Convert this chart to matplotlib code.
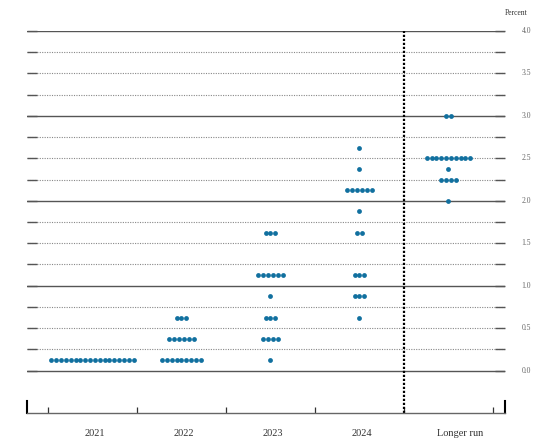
import matplotlib.pyplot as plt
import numpy as np

plt.rcParams["font.family"] = ["Liberation Serif", "DejaVu Serif"]

# midpoint of target range (percent) and number of participants at each
categories = ["2021", "2022", "2023", "2024", "Longer run"]
rates_2021 = [0.125]
counts_2021 = [18]
rates_2022 = [0.125, 0.375, 0.625]
counts_2022 = [9, 6, 3]
rates_2023 = [0.125, 0.375, 0.625, 0.875, 1.125, 1.625]
counts_2023 = [1, 4, 3, 1, 6, 3]
rates_2024 = [0.625, 0.875, 1.125, 1.625, 1.875, 2.125, 2.375, 2.625]
counts_2024 = [1, 3, 3, 2, 1, 6, 1, 1]
rates_lr = [2.0, 2.25, 2.375, 2.5, 3.0]
counts_lr = [1, 4, 1, 10, 2]

all_rates = [rates_2021, rates_2022, rates_2023, rates_2024, rates_lr]
all_counts = [counts_2021, counts_2022, counts_2023, counts_2024, counts_lr]

ytick_vals = [0.0, 0.5, 1.0, 1.5, 2.0, 2.5, 3.0, 3.5, 4.0]

fig = plt.figure(figsize=(5.59, 4.48), dpi=100)
ax = fig.add_axes([0.0483, 0.0781, 0.8551, 0.8527])

xmin, xmax = -0.736, 4.635
ax.set_xlim(xmin, xmax)
ax.set_ylim(-0.5, 4.0)

# grid lines
for k in range(17):
    y = k * 0.25
    if k % 4 == 0:
        ax.axhline(y, color="#555555", lw=1.0, zorder=1)
    else:
        ax.axhline(y, color="#888888", lw=0.8, ls=(0, (1, 1.2)), zorder=1)

# dots
step = 0.0545
for i, (rates, counts) in enumerate(zip(all_rates, all_counts)):
    for r, c in zip(rates, counts):
        xs = i + (np.arange(c) - (c - 1) / 2) * step
        ax.scatter(xs, [r] * c, s=12, color="#11709f", zorder=3, linewidths=0)

# separator for longer run
ax.plot([3.5, 3.5], [-0.5, 4.0], color="black", lw=1.6, ls=(0, (1, 0.8)),
        zorder=2, clip_on=False)

# y ticks on both sides
ax.set_yticks(np.arange(0, 4.01, 0.25))
ax.tick_params(axis="y", which="both", direction="in", length=7.5, width=1.0,
               color="#555555", left=True, right=True, labelleft=False,
               labelright=False)
for v in ytick_vals:
    ax.text(xmax + 0.24, v, f"{v:.1f}", fontsize=5.5, color="#666666",
            va="center", ha="center", transform=ax.transData)
ax.text(xmax + 0.12, 4.16, "Percent", fontsize=5.5, color="#333333",
        va="bottom", ha="center")

# x axis
for s in ["top", "left", "right"]:
    ax.spines[s].set_visible(False)
ax.spines["bottom"].set_color("#666666")
ax.spines["bottom"].set_linewidth(1.0)
ax.set_xticks([-0.5, 0.5, 1.5, 2.5, 3.5, 4.5])
ax.set_xticklabels([])
ax.tick_params(axis="x", direction="in", length=4.5, width=0.9, color="#333333")
ax.plot([xmin, xmin], [-0.5, -0.36], color="black", lw=1.5, clip_on=False)
ax.plot([xmax, xmax], [-0.5, -0.36], color="black", lw=1.5, clip_on=False)

label_off = [0.03, 0.03, 0.03, 0.03, 0.13]
for i, name in enumerate(categories):
    ax.text(i + label_off[i], -0.74, name, fontsize=7.5, color="#333333",
            ha="center", va="center")

fig.savefig("out.png", dpi=100)
